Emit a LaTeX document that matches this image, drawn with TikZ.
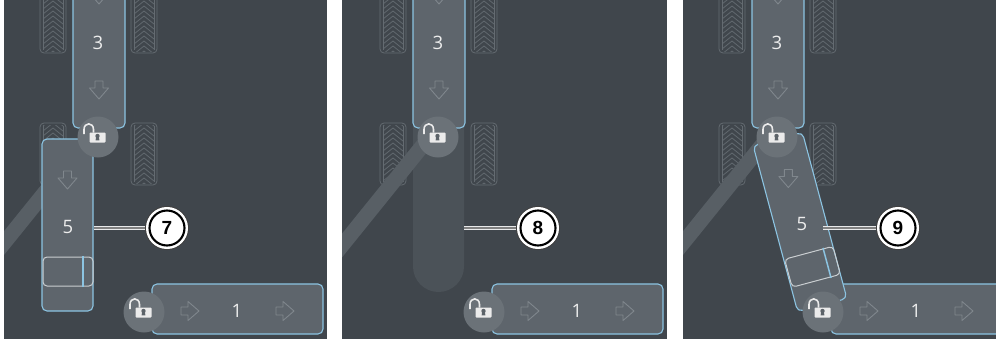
\documentclass[tikz,border=0pt]{standalone}
\usepackage{fontspec}
\setmainfont{Open Sans}
\newfontfamily\calloutfont{Liberation Sans}

\definecolor{panelc}{RGB}{64,70,76}
\definecolor{blockc}{RGB}{94,101,108}
\definecolor{edgec}{RGB}{140,196,226}
\definecolor{discc}{RGB}{107,114,120}
\definecolor{bandc}{RGB}{88,95,101}
\definecolor{ghostc}{RGB}{75,82,88}
\definecolor{treadc}{RGB}{100,107,113}
\definecolor{glyphc}{RGB}{128,135,141}
\definecolor{keyc}{RGB}{92,99,105}
\definecolor{framec}{RGB}{202,206,209}
\definecolor{leadc}{RGB}{232,233,234}

\tikzset{
  block/.style={rectangle, draw=edgec, line width=1.1pt, fill=blockc,
    rounded corners=5pt, inner sep=0pt},
  slot/.style={block, minimum width=51pt, minimum height=172pt},
  ghost/.style={rectangle, fill=ghostc, rounded corners=25.5pt, inner sep=0pt,
    minimum width=51pt, minimum height=202pt},
  disc/.style={circle, fill=discc, minimum size=41pt, inner sep=0pt},
  num/.style={text=white!93!black, font=\fontsize{18.5}{18.5}\selectfont, inner sep=0pt},
  callout/.style={circle, minimum size=35pt, inner sep=0pt, fill=white,
    draw=black, line width=2.1pt,
    preaction={draw=black!75, line width=9pt},
    preaction={draw=white, line width=7pt},
    font=\calloutfont\bfseries\fontsize{19}{19}\selectfont},
  lead/.style={draw=leadc, line width=1.1pt, double=black!50, double distance=1.3pt},
  band/.style={draw=bandc, line width=15pt},
  tread/.style={draw=treadc, line width=0.75pt},
  glyph/.style={draw=glyphc, line width=0.9pt, line join=round},
  dnarrow/.pic={\draw[glyph] (-4,-9) -- (4,-9) -- (4,-2) -- (9.5,-2) -- (0,9)
      -- (-9.5,-2) -- (-4,-2) -- cycle;},
  lockicon/.pic={
    \draw[white!92!black, line width=1.6pt] (-14,-3) -- (-14,-7.5)
      .. controls (-14,-15) and (-4.5,-15) .. (-4.5,-7.5) -- (-4.5,-4.5);
    \fill[white!92!black, rounded corners=0.8pt] (-8.5,-4.5) rectangle (7.5,5.5);
    \fill[keyc] (-0.5,-1) circle[radius=2.2pt];
    \fill[keyc] (-1.8,0) -- (0.8,0) -- (1.4,3.3) -- (-2.4,3.3) -- cycle;}
}

% one tyre with a chevron tread, given its top-left corner
\newcommand\tirepad[2]{%
  \begin{scope}[shift={(#1,#2)}]
    \draw[tread, rounded corners=4pt] (0,0) rectangle (26,62);
    \draw[tread] (3,3) -- (3,59) (23,3) -- (23,59);
    \begin{scope}
      \clip (3,2) rectangle (23,60);
      \foreach \k in {-1,...,12}{\draw[tread] (3,\k*5+8) -- (13,\k*5) -- (23,\k*5+8);}
    \end{scope}
  \end{scope}}

% the four tyres around the upper coupling
\newcommand\axlepads{\tirepad{40}{-9}\tirepad{131}{-9}\tirepad{40}{123}\tirepad{131}{123}}

% upper block (3)
\newcommand\upperblock[1]{%
  \node[block, minimum width=52pt, minimum height=150pt] (b3#1) at (99,53) {};
  \pic at (99,-5) {dnarrow};
  \pic at (99,90) {dnarrow};
  \node[num] (t3#1) at (98,43) {3};}

% lower block (1)
\newcommand\lowerblock[1]{%
  \node[block, minimum width=171pt, minimum height=50pt] (b1#1) at (237.5,309) {};
  \pic[rotate=90] at (190,311) {dnarrow};
  \pic[rotate=90] at (285,311) {dnarrow};
  \node[num] (t1#1) at (237,311) {1};}

% the two coupling discs with open locks
\newcommand\couplings[1]{%
  \node[disc] (k3#1) at (98,137) {};
  \pic at (k3#1) {lockicon};
  \node[disc] (k1#1) at (144,312) {};
  \pic at (k1#1) {lockicon};}

% contents of the middle block (5), around its centre
\newcommand\midcontents{%
  \pic at (0,-45) {dnarrow};
  \draw[framec, line width=1pt, rounded corners=4pt] (-24.5,32) rectangle (25.5,61);
  \draw[edgec, line width=1.5pt] (15.5,31) -- (15.5,62);}

\begin{document}
\begin{tikzpicture}[x=1pt,y=-1pt]
\useasboundingbox (0,0) rectangle (996,343);
\fill[white] (0,0) rectangle (996,343);

% ---- first panel ----
\begin{scope}
  \fill[panelc] (4,0) rectangle (327,339);
  \clip (4,0) rectangle (327,339);
  \axlepads
  \draw[band] (92,134) -- (-96,367);
  \upperblock{a}
  \lowerblock{a}
  \node[slot] (s5a) at (67.5,225) {};
  \begin{scope}[shift={(67.5,225)}]\midcontents\end{scope}
  \node[num] (t5a) at (68,227) {5};
  \couplings{a}
  \node[callout] (c7) at (167,228) {7};
  \draw[lead, shorten >=3pt] (s5a.east |- c7) -- (c7);
\end{scope}

% ---- second panel ----
\begin{scope}
  \fill[panelc] (342,0) rectangle (667,339);
  \clip (342,0) rectangle (667,339);
  \begin{scope}[shift={(340,0)}]
    \axlepads
    \node[ghost] (g8) at (98.5,191) {};
    \draw[band] (92,134) -- (-96,367);
    \upperblock{b}
    \lowerblock{b}
    \couplings{b}
    \node[callout] (c8) at (198,228) {8};
    \draw[lead, shorten >=3pt] (g8.east |- c8) -- (c8);
  \end{scope}
\end{scope}

% ---- third panel ----
\begin{scope}
  \fill[panelc] (683,0) rectangle (996,339);
  \clip (683,0) rectangle (996,339);
  \begin{scope}[shift={(679,0)}]
    \axlepads
    \draw[band] (92,134) -- (-96,367);
    \upperblock{c}
    \lowerblock{c}
    \node[slot, rotate=15] (s5c) at (121,222) {};
    \begin{scope}[shift={(121,222)}, rotate=15]\midcontents\end{scope}
    \node[num] (t5c) at (123,224) {5};
    \couplings{c}
    \node[callout] (c9) at (219,228) {9};
    \coordinate (l9) at (144,228);
    \draw[lead, shorten >=3pt] (l9) -- (c9);
  \end{scope}
\end{scope}
\end{tikzpicture}
\end{document}
